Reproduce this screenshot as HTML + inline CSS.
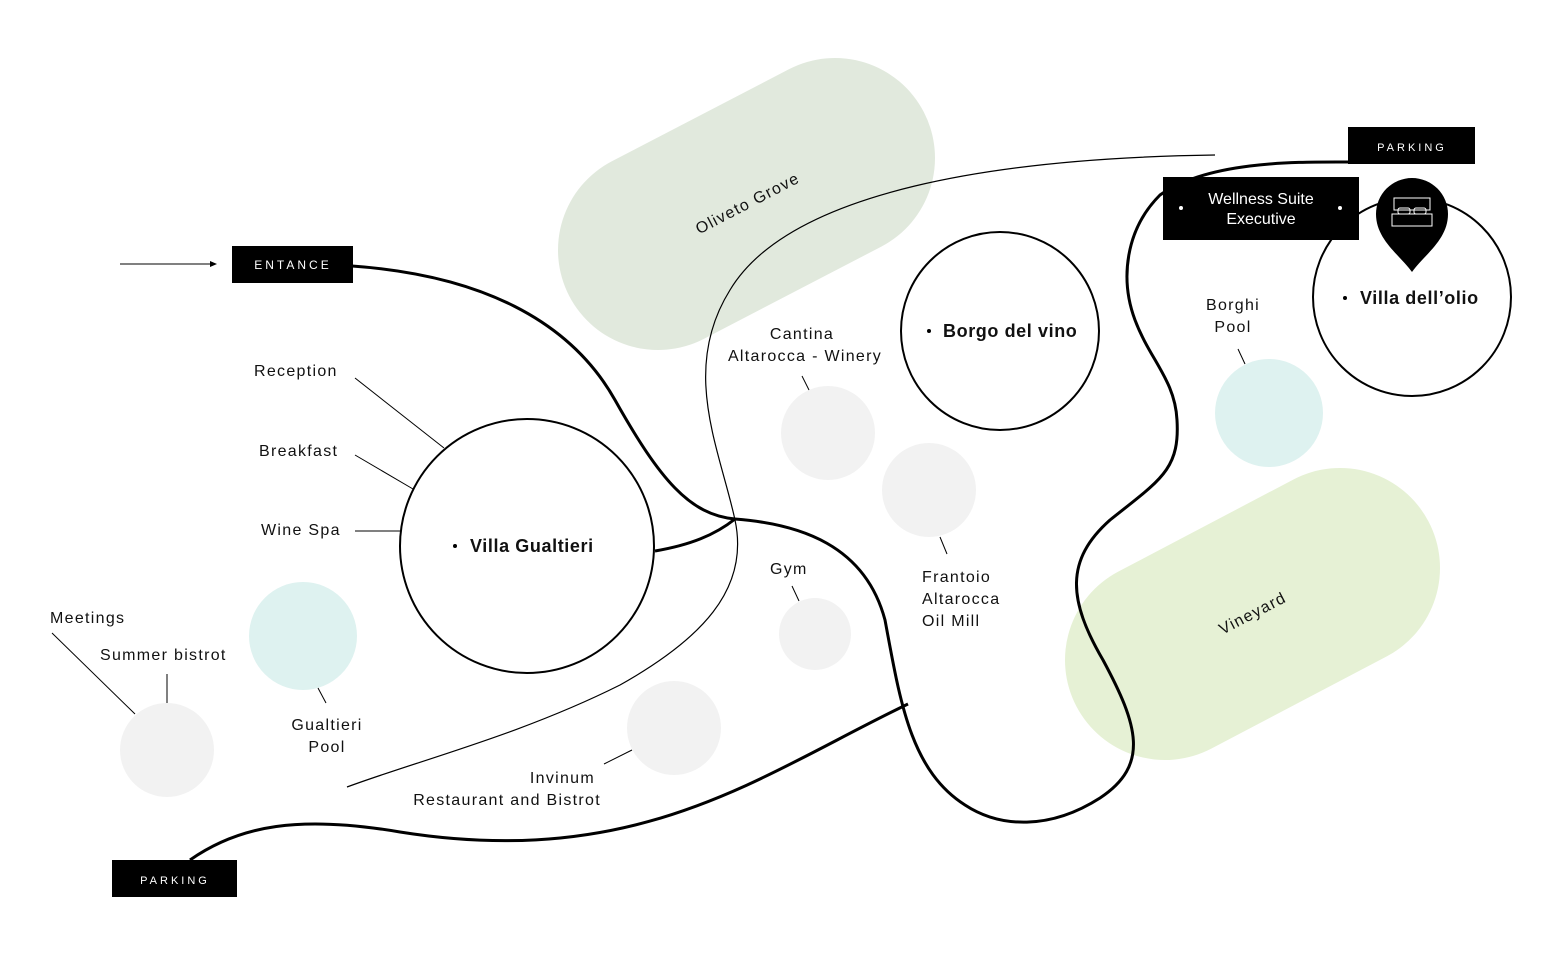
<!DOCTYPE html>
<html><head><meta charset="utf-8"><style>
html,body{margin:0;padding:0;background:#fff}
svg{display:block}
text{font-family:"Liberation Sans",sans-serif;fill:#111}
.l{font-size:16px;letter-spacing:1.3px}
.b{font-size:18px;font-weight:bold;letter-spacing:0.6px}
.w{fill:#fff;font-size:12px;letter-spacing:3px}
</style></head><body>
<svg width="1562" height="973" viewBox="0 0 1562 973" xmlns="http://www.w3.org/2000/svg">
<line x1="658" y1="250" x2="835" y2="158" stroke="#e1e9dd" stroke-width="200" stroke-linecap="round"/>
<line x1="1165" y1="660" x2="1340" y2="568" stroke="#e6f1d5" stroke-width="200" stroke-linecap="round"/>
<text class="l" transform="translate(750,208) rotate(-27.5)" text-anchor="middle">Oliveto Grove</text>
<text class="l" transform="translate(1255,618) rotate(-27.5)" text-anchor="middle">Vineyard</text>
<g fill="#f2f2f2">
<circle cx="828" cy="433" r="47"/><circle cx="929" cy="490" r="47"/><circle cx="815" cy="634" r="36"/>
<circle cx="674" cy="728" r="47"/><circle cx="167" cy="750" r="47"/>
</g>
<g fill="#def2f0"><circle cx="303" cy="636" r="54"/><circle cx="1269" cy="413" r="54"/></g>
<path d="M1215,155 C1000,158 790,190 730,290 C680,370 720,450 735,520 C750,590 700,640 620,685 C520,735 420,760 347,787" fill="none" stroke="#000" stroke-width="1.2"/>
<g fill="none" stroke="#000" stroke-width="3">
<path d="M352,266 C480,275 570,320 615,400 C660,480 690,515 735,519 C800,524 865,545 885,620 C900,700 910,770 965,805 C1000,828 1050,830 1100,798 C1150,765 1138,725 1103,660 C1068,600 1065,560 1110,520 C1160,480 1180,470 1177,420 C1175,380 1150,360 1135,320 C1120,280 1125,230 1160,195 C1210,160 1300,162 1350,162"/>
<path d="M655,551 C690,545 715,535 735,519"/>
<path d="M908,704 C760,775 640,870 400,832 C300,815 240,825 190,860"/>
</g>
<g fill="#fff" stroke="#000" stroke-width="2">
<circle cx="527" cy="546" r="127"/><circle cx="1000" cy="331" r="99"/><circle cx="1412" cy="297" r="99"/>
</g>
<text class="b" x="470" y="552">Villa Gualtieri</text><circle cx="455" cy="546" r="2" fill="#000"/>
<text class="b" x="943" y="337">Borgo del vino</text><circle cx="929" cy="331" r="2" fill="#000"/>
<text class="b" x="1360" y="304">Villa dell’olio</text><circle cx="1345" cy="298" r="2" fill="#000"/>
<g stroke="#000" stroke-width="1">
<line x1="355" y1="378" x2="444" y2="448"/><line x1="355" y1="455" x2="413" y2="489"/>
<line x1="355" y1="531" x2="401" y2="531"/><line x1="52" y1="633" x2="135" y2="714"/>
<line x1="167" y1="674" x2="167" y2="703"/><line x1="318" y1="688" x2="326" y2="703"/>
<line x1="632" y1="750" x2="604" y2="764"/><line x1="792" y1="586" x2="799" y2="601"/>
<line x1="802" y1="376" x2="809" y2="390"/><line x1="940" y1="537" x2="947" y2="554"/>
<line x1="1238" y1="349" x2="1245" y2="364"/>
<line x1="120" y1="264" x2="212" y2="264"/>
</g>
<polygon points="217,264 210,261 210,267" fill="#000"/>
<g class="l">
<text x="254" y="376">Reception</text><text x="259" y="456">Breakfast</text><text x="261" y="535">Wine Spa</text>
<text x="50" y="623">Meetings</text><text x="100" y="660">Summer bistrot</text>
<text x="327" y="730" text-anchor="middle">Gualtieri</text><text x="327" y="752" text-anchor="middle">Pool</text>
<text x="595" y="783" text-anchor="end">Invinum</text><text x="601" y="805" text-anchor="end">Restaurant and Bistrot</text>
<text x="770" y="574">Gym</text>
<text x="802" y="339" text-anchor="middle">Cantina</text><text x="805" y="361" text-anchor="middle">Altarocca - Winery</text>
<text x="922" y="582">Frantoio</text><text x="922" y="604">Altarocca</text><text x="922" y="626">Oil Mill</text>
<text x="1233" y="310" text-anchor="middle">Borghi</text><text x="1233" y="332" text-anchor="middle">Pool</text>
</g>
<rect x="232" y="246" width="121" height="37" fill="#000"/><text class="w" x="293" y="269" text-anchor="middle">ENTANCE</text>
<rect x="112" y="860" width="125" height="37" fill="#000"/><text class="w" x="175" y="884" text-anchor="middle" style="font-size:11px">PARKING</text>
<rect x="1348" y="127" width="127" height="37" fill="#000"/><text class="w" x="1412" y="151" text-anchor="middle" style="font-size:11px">PARKING</text>
<rect x="1163" y="177" width="196" height="63" fill="#000"/>
<text x="1261" y="204" text-anchor="middle" style="fill:#fff;font-size:16px">Wellness Suite</text>
<text x="1261" y="224" text-anchor="middle" style="fill:#fff;font-size:16px">Executive</text>
<circle cx="1181" cy="208" r="2" fill="#fff"/><circle cx="1340" cy="208" r="2" fill="#fff"/>
<path d="M1412,272 C1400,255 1376,240 1376,214 A36,36 0 0 1 1448,214 C1448,240 1424,255 1412,272 Z" fill="#000"/>
<g fill="none" stroke="#fff" stroke-width="1">
<rect x="1394" y="198" width="36" height="12"/><rect x="1392" y="214" width="40" height="12"/>
<rect x="1398" y="208" width="12" height="6" rx="2"/><rect x="1414" y="208" width="12" height="6" rx="2"/>
</g>
</svg>
</body></html>
